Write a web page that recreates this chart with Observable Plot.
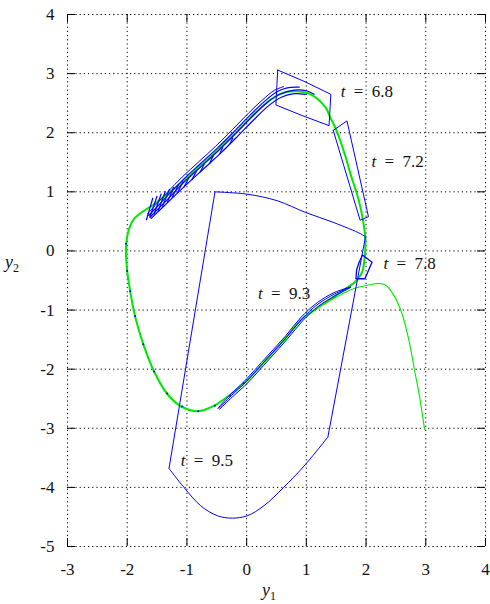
<!DOCTYPE html>
<html>
<head>
<meta charset="utf-8">
<script src="https://cdn.jsdelivr.net/npm/d3@7"></script>
<script src="https://cdn.jsdelivr.net/npm/@observablehq/plot@0.6"></script>
<style>
  body { margin: 0; background: #fff; }
  #chart svg, #chart svg text { font-family: "Liberation Serif", serif !important; }
</style>
</head>
<body>
<div id="chart"></div>
<script>
// Axis ticks
const xTicks = [-3, -2, -1, 0, 1, 2, 3, 4];
const yTicks = [-5, -4, -3, -2, -1, 0, 1, 2, 3, 4];

// Trajectory (y1, y2) entering the limit cycle from (3, -3)
const approach = [
  [2.98, -3.02], [2.89, -2.43], [2.81, -2.01], [2.72, -1.52], [2.58, -1.00],
  [2.44, -0.71], [2.33, -0.58], [2.22, -0.55], [2.02, -0.58], [1.85, -0.62],
  [1.69, -0.68], [1.50, -0.78], [1.30, -0.90]
];

// Limit cycle
const cycle = [
  [1.80, -0.54], [1.57, -0.70], [1.18, -0.97], [0.90, -1.18], [0.65, -1.48],
  [0.35, -1.82], [0.01, -2.19], [-0.30, -2.45], [-0.55, -2.62], [-0.81, -2.71],
  [-1.08, -2.64], [-1.33, -2.42], [-1.55, -2.04], [-1.73, -1.58], [-1.87, -1.10],
  [-1.95, -0.68], [-2.00, -0.34], [-2.02, 0.06], [-1.97, 0.37], [-1.89, 0.54],
  [-1.72, 0.68], [-1.55, 0.79], [-1.05, 1.19], [-0.77, 1.44], [-0.49, 1.70],
  [-0.21, 1.97], [0.07, 2.26], [0.35, 2.52], [0.55, 2.65], [0.77, 2.70],
  [1.07, 2.65], [1.32, 2.43], [1.40, 2.26], [1.50, 2.05], [1.57, 1.86],
  [1.66, 1.58], [1.74, 1.30], [1.82, 1.05], [1.88, 0.85], [1.95, 0.51],
  [1.99, 0.17], [1.97, -0.17], [1.94, -0.34], [1.88, -0.45], [1.80, -0.54],
  [1.57, -0.70], [1.18, -0.97]
];

// Small enclosures along the left part of the cycle
const smallSets = [
  [-2.02, 0.12], [-2.00, -0.34], [-1.95, -0.68], [-1.87, -1.10], [-1.73, -1.58],
  [-1.55, -2.04], [-1.33, -2.41], [-1.08, -2.63], [-0.81, -2.71], [-0.53, -2.62],
  [-0.28, -2.45], [-0.05, -2.24]
];

// Enclosures stretched along the rising branch
const riseOuter = [
  [-1.66, 0.63], [-1.33, 0.99], [-1.08, 1.25], [-0.80, 1.51], [-0.52, 1.77],
  [-0.24, 2.05], [0.04, 2.34], [0.27, 2.56], [0.47, 2.72], [0.62, 2.78]
];
const riseUpper = [
  [-1.64, 0.60], [-1.30, 0.96], [-1.05, 1.22], [-0.77, 1.48], [-0.49, 1.74],
  [-0.21, 2.02], [0.07, 2.31], [0.30, 2.53], [0.50, 2.69], [0.68, 2.76], [0.88, 2.77]
];
const riseMiddle = [
  [-1.62, 0.57], [-1.28, 0.92], [-1.03, 1.18], [-0.75, 1.44], [-0.47, 1.70],
  [-0.19, 1.98], [0.09, 2.27], [0.33, 2.50], [0.55, 2.65], [0.80, 2.72],
  [1.00, 2.71], [1.13, 2.65]
];
const riseLower = [
  [-1.60, 0.55], [-1.26, 0.88], [-1.00, 1.13], [-0.72, 1.39], [-0.44, 1.65],
  [-0.16, 1.93], [0.12, 2.22], [0.36, 2.45], [0.58, 2.60], [0.80, 2.66], [0.98, 2.65]
];
const riseStrokeStart = [
  [-1.68, 0.52], [-1.62, 0.57], [-1.55, 0.62], [-1.48, 0.68], [-1.41, 0.75],
  [-1.33, 0.82], [-1.25, 0.90], [-1.16, 0.98], [-1.05, 1.08], [-0.92, 1.20],
  [-0.78, 1.33], [-0.62, 1.48], [-0.45, 1.64], [-0.28, 1.81]
];
const riseStrokeEnd = [
  [-1.57, 0.90], [-1.50, 0.93], [-1.43, 0.97], [-1.36, 1.01], [-1.29, 1.05],
  [-1.22, 1.08], [-1.14, 1.12], [-1.06, 1.18], [-0.96, 1.25], [-0.84, 1.35],
  [-0.71, 1.47], [-0.56, 1.61], [-0.40, 1.76], [-0.23, 1.92]
];

// Enclosures at the labelled times
const set68 = [[0.52, 3.06], [0.96, 2.87], [1.41, 2.65], [1.38, 2.12], [0.93, 2.29], [0.49, 2.47], [0.52, 3.06]];
const set72 = [[1.45, 2.04], [1.68, 2.20], [2.04, 0.58], [1.90, 0.52], [1.45, 2.04]];
const set78 = [[1.94, -0.07], [2.10, -0.19], [1.98, -0.47], [1.83, -0.47], [1.84, -0.33], [1.88, -0.20], [1.94, -0.07]];
const set93Upper = [
  [1.742, -0.609], [1.463, -0.705], [1.184, -0.874], [0.905, -1.128], [0.653, -1.438],
  [0.346, -1.777], [-0.045, -2.211], [-0.268, -2.425], [-0.48, -2.662]
];
const set93Middle = [
  [1.74, -0.615], [1.47, -0.73], [1.195, -0.90], [0.92, -1.155], [0.67, -1.46],
  [0.36, -1.80], [-0.03, -2.235], [-0.255, -2.447], [-0.465, -2.668]
];
const set93Lower = [
  [-0.45, -2.675], [-0.24, -2.47], [-0.01, -2.26], [0.38, -1.83], [0.69, -1.48],
  [0.94, -1.18], [1.21, -0.93], [1.48, -0.76], [1.74, -0.62]
];
const set95Top = [[-0.53, 1.00], [0.01, 0.96], [0.51, 0.85], [0.99, 0.65], [1.46, 0.48], [1.91, 0.29], [1.99, 0.24]];
const set95Bottom = [
  [1.36, -3.15], [0.96, -3.64], [0.62, -4.00], [0.29, -4.31], [0.01, -4.48],
  [-0.24, -4.52], [-0.49, -4.48], [-0.77, -4.31], [-1.05, -4.00], [-1.30, -3.68]
];

// Time labels
const labelTimes = [6.8, 7.2, 7.8, 9.3, 9.5];
const labelY1 = [1.575, 2.09, 2.29, 0.19, -1.105];
const labelY2 = [2.70, 1.51, -0.21, -0.72, -3.54];

const FONT = "Liberation Serif, serif";
const BLUE = "#0000ff";
const GREEN = "#00e800";
const W = 490, H = 604;
const mL = 67, mR = 5, mT = 14, mB = 58;
const plotW = W - mL - mR, plotH = H - mT - mB;
const TICK = 8;

const pts = a => a.map(([x, y]) => ({x, y}));
const labels = labelTimes.map((t, i) => ({t, x: labelY1[i], y: labelY2[i]}));
const strokes = riseStrokeStart.map((p, i) => ({x1: p[0], y1: p[1], x2: riseStrokeEnd[i][0], y2: riseStrokeEnd[i][1]}));
const edges95 = [
  {x1: set95Top[set95Top.length - 1][0], y1: set95Top[set95Top.length - 1][1], x2: set95Bottom[0][0], y2: set95Bottom[0][1]},
  {x1: set95Bottom[set95Bottom.length - 1][0], y1: set95Bottom[set95Bottom.length - 1][1], x2: set95Top[0][0], y2: set95Top[0][1]}
];

const blueLine = (a, extra = {}) => Plot.line(pts(a), {x: "x", y: "y", stroke: BLUE, strokeWidth: 1, ...extra});
const labelText = {x: "x", y: "y", textAnchor: "start", fontSize: 17, fontFamily: FONT, fill: "#111"};

const chart = Plot.plot({
  width: W,
  height: H,
  marginLeft: mL,
  marginRight: mR,
  marginTop: mT,
  marginBottom: mB,
  style: `font-family: ${FONT}; background: #fff;`,
  x: {domain: [-3, 4], label: null},
  y: {domain: [-5, 4], label: null},
  marks: [
    Plot.gridX(xTicks, {stroke: "#000", strokeOpacity: 1, strokeDasharray: "1.2,3"}),
    Plot.gridY(yTicks, {stroke: "#000", strokeOpacity: 1, strokeDasharray: "1.2,3"}),
    // inward ticks on all four sides
    Plot.tickX(xTicks, {x: d => d, insetBottom: plotH - TICK, stroke: "#000"}),
    Plot.tickX(xTicks, {x: d => d, insetTop: plotH - TICK, stroke: "#000"}),
    Plot.tickY(yTicks, {y: d => d, insetRight: plotW - TICK, stroke: "#000"}),
    Plot.tickY(yTicks, {y: d => d, insetLeft: plotW - TICK, stroke: "#000"}),
    Plot.axisX(xTicks, {tickSize: 0, tickPadding: 16, fontSize: 17, fontFamily: FONT, tickFormat: d => String(d), label: null, fill: "#111"}),
    Plot.axisY(yTicks, {tickSize: 0, tickPadding: 13, fontSize: 17, fontFamily: FONT, tickFormat: d => String(d), label: null, fill: "#111"}),

    // trajectory and limit cycle
    Plot.line(pts(approach), {x: "x", y: "y", stroke: GREEN, strokeWidth: 1.1, curve: "catmull-rom"}),
    Plot.line(pts(cycle), {x: "x", y: "y", stroke: GREEN, strokeWidth: 2, curve: "catmull-rom"}),

    // enclosures along the rising branch
    blueLine(riseOuter, {curve: "catmull-rom"}),
    blueLine(riseUpper, {curve: "catmull-rom", strokeWidth: 1.2}),
    blueLine(riseMiddle, {curve: "catmull-rom", strokeWidth: 1.2}),
    blueLine(riseLower, {curve: "catmull-rom", strokeWidth: 1.2}),
    Plot.link(strokes, {x1: "x1", y1: "y1", x2: "x2", y2: "y2", stroke: BLUE, strokeWidth: 1.2}),
    Plot.dot(pts(smallSets), {x: "x", y: "y", r: 1, fill: BLUE, stroke: null}),

    // labelled enclosures
    blueLine(set68),
    blueLine(set72),
    blueLine(set78, {strokeWidth: 1.3}),
    blueLine(set93Upper, {curve: "catmull-rom"}),
    blueLine(set93Middle, {curve: "catmull-rom"}),
    blueLine(set93Lower, {curve: "catmull-rom"}),
    blueLine(set95Top, {curve: "catmull-rom"}),
    blueLine(set95Bottom, {curve: "catmull-rom"}),
    Plot.link(edges95, {x1: "x1", y1: "y1", x2: "x2", y2: "y2", stroke: BLUE, strokeWidth: 1}),

    // time labels: italic t, then "= value"
    Plot.text(labels, {...labelText, text: () => "t", fontStyle: "italic"}),
    Plot.text(labels, {...labelText, text: () => "=", dx: 13}),
    Plot.text(labels, {...labelText, text: d => String(d.t), dx: 31})
  ]
});

// axis titles y1 and y2 with subscripts
const svg = d3.select(chart);
function axisTitle(x, y, sub) {
  const t = svg.append("text")
    .attr("x", x).attr("y", y)
    .attr("font-family", FONT)
    .attr("font-size", 18)
    .attr("fill", "#111");
  t.append("tspan").attr("font-style", "italic").text("y");
  t.append("tspan").attr("font-size", 12).attr("dy", 4).text(sub);
}
axisTitle(269, 596, "1");
axisTitle(12, 268, "2");

document.getElementById("chart").append(chart);
</script>
</body>
</html>
